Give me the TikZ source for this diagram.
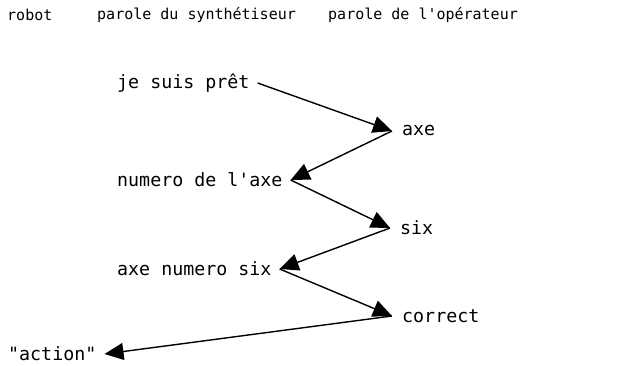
\documentclass[tikz,border=0pt]{standalone}
\usepackage{fontspec}
\setmonofont{DejaVu Sans Mono}
\usetikzlibrary{arrows.meta}
\begin{document}
\begin{tikzpicture}[x=1pt,y=-1pt,
  head/.style={font=\ttfamily\fontsize{15}{18}\selectfont, inner sep=0pt, anchor=west},
  lbl/.style={font=\ttfamily\fontsize{18.3}{22}\selectfont, inner sep=0pt, anchor=west},
  lcol/.style={lbl, inner xsep=8pt},
  rcol/.style={lbl, inner xsep=10pt},
  arr/.style={line width=1.4pt, -{Triangle[length=19pt,width=17pt]}}]
\useasboundingbox (0,0) rectangle (640,366);
\node[head] (robot) at (7,15) {robot};
\node[head] (synth) at (97,15) {parole du synthétiseur};
\node[head] (oper) at (328,15) {parole de l'opérateur};
\node[lcol] (je) at (109,83) {je suis prêt};
\node[rcol] (axe) at (392,131) {axe};
\node[lcol] (num) at (109,180) {numero de l'axe};
\node[rcol] (six) at (390,228) {six};
\node[lcol] (axens) at (109,269) {axe numero six};
\node[rcol] (corr) at (392,316) {correct};
\node[lcol] (act) at (0,354) {"action"};
\draw[arr] (je.east) -- (axe.west);
\draw[arr] (axe.west) -- (num.east);
\draw[arr] (num.east) -- (six.west);
\draw[arr] (six.west) -- (axens.east);
\draw[arr] (axens.east) -- (corr.west);
\draw[arr] (corr.west) -- (act.east);
\end{tikzpicture}
\end{document}
